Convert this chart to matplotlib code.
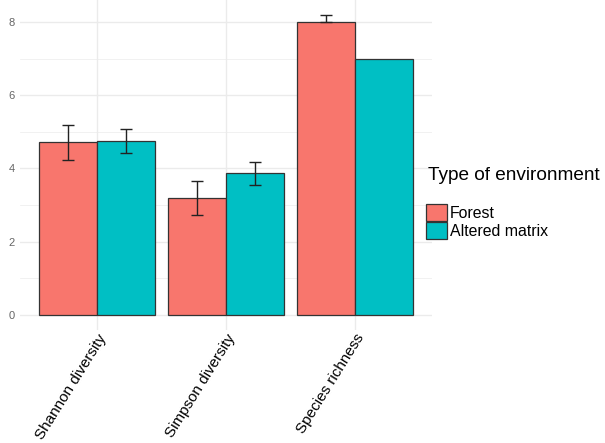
import matplotlib
matplotlib.use("Agg")
import matplotlib.pyplot as plt
from matplotlib.patches import Patch
import numpy as np

plt.rcParams['font.family'] = ['Liberation Sans', 'DejaVu Sans']

# data
metrics = ["Shannon diversity", "Simpson diversity", "Species richness"]
groups = ["Forest", "Altered matrix"]
forest_mean = [4.71, 3.19, 8.0]
forest_err_lo = [0.49, 0.47, 0.0]
forest_err_hi = [0.49, 0.47, 0.18]
altered_mean = [4.76, 3.87, 7.0]
altered_err_lo = [0.33, 0.32, 0.0]
altered_err_hi = [0.33, 0.32, 0.0]

colors = ["#F8766D", "#00BFC4"]

fig = plt.figure(figsize=(6.05, 4.43), dpi=100)
ax = fig.add_axes([20 / 605, 113 / 443, 412 / 605, 1 - 113 / 443])

x = np.arange(len(metrics)) + 1
w = 0.45
series = [(forest_mean, forest_err_lo, forest_err_hi),
          (altered_mean, altered_err_lo, altered_err_hi)]
for i, (m, lo, hi) in enumerate(series):
    xs = x + (i - 0.5) * w
    ax.bar(xs, m, width=w, color=colors[i], edgecolor="#333333", linewidth=0.9, zorder=2)
    has_err = [(a > 0 or b > 0) for a, b in zip(lo, hi)]
    xe = [p for p, h in zip(xs, has_err) if h]
    me = [v for v, h in zip(m, has_err) if h]
    le = [v for v, h in zip(lo, has_err) if h]
    he = [v for v, h in zip(hi, has_err) if h]
    ax.errorbar(xe, me, yerr=[le, he], fmt="none", ecolor="#222222",
                elinewidth=1.0, capsize=4.3, capthick=1.0, zorder=3)

ax.set_xlim(0.4, 3.6)
ax.set_ylim(-0.41, 8.6)
ax.set_yticks([0, 2, 4, 6, 8])
ax.set_yticks([1, 3, 5, 7], minor=True)
ax.set_xticks(x)
ax.set_xticklabels(metrics, rotation=58, ha="right", va="top",
                   rotation_mode="anchor", fontsize=11, color="black")
ax.tick_params(axis="both", length=0, which="both")
ax.tick_params(axis="y", labelsize=8, labelcolor="#666666", pad=4)
ax.tick_params(axis="x", pad=1)
ax.grid(True, which="major", color="#EBEBEB", linewidth=1.0, zorder=0)
ax.grid(True, which="minor", axis="y", color="#EBEBEB", linewidth=0.5, zorder=0)
ax.set_axisbelow(True)
for s in ax.spines.values():
    s.set_visible(False)

fig.text(428 / 605, 1 - 176 / 443, "Type of environment", fontsize=13.7,
         ha="left", va="center", color="black")
handles = [Patch(facecolor=c, edgecolor="#333333", linewidth=0.9) for c in colors]
leg = fig.legend(handles, groups, loc="upper left",
                 bbox_to_anchor=(426 / 605, 1 - 204 / 443), frameon=False,
                 fontsize=11.4, handlelength=1.3, handleheight=1.3,
                 labelspacing=0.05, handletextpad=0.2,
                 borderaxespad=0, borderpad=0)

fig.savefig("out.png", dpi=100)
